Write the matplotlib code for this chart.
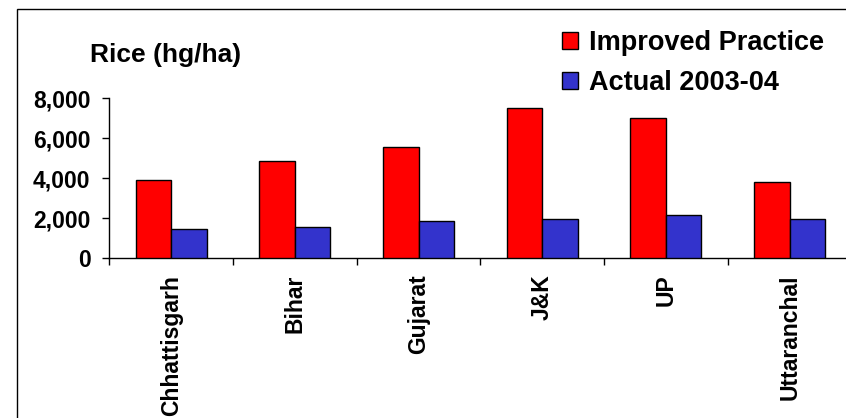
import matplotlib
matplotlib.use("Agg")
import matplotlib.pyplot as plt
from matplotlib.patches import Rectangle, Patch
from matplotlib.ticker import FuncFormatter
import numpy as np

categories = ["Chhattisgarh", "Bihar", "Gujarat", "J&K", "UP", "Uttaranchal"]
improved = [3900, 4880, 5570, 7500, 7020, 3830]
actual = [1450, 1540, 1870, 1940, 2140, 1960]
series_names = ["Improved Practice", "Actual 2003-04"]
title = "Rice (hg/ha)"

plt.rcParams['font.family'] = ['Liberation Sans', 'DejaVu Sans']
plt.rcParams['font.weight'] = 'bold'

W, H = 846, 418
fig = plt.figure(figsize=(W / 100, H / 100), dpi=100)

# axes in pixel coords
left, right = 109.3, 851.5
bottom, top = 258.0, 98.3
ax = fig.add_axes([left / W, 1 - bottom / H, (right - left) / W, (bottom - top) / H])

x = np.arange(len(categories))
bw = 0.287
ax.bar(x - bw / 2, improved, bw, color="#FF0000", edgecolor="black", linewidth=1.0, zorder=3)
ax.bar(x + bw / 2, actual, bw, color="#3333CC", edgecolor="black", linewidth=1.0, zorder=3)

ax.set_xlim(-0.5, len(categories) - 0.5)
ax.set_ylim(0, 8000)
ax.set_yticks([0, 2000, 4000, 6000, 8000])
ax.yaxis.set_major_formatter(FuncFormatter(lambda v, p: f"{int(v):,}"))
for s in ["top", "right"]:
    ax.spines[s].set_visible(False)
ax.spines["left"].set_linewidth(1.0)
ax.spines["bottom"].set_linewidth(1.0)

ax.set_xticks(np.arange(-0.5, len(categories) + 0.5, 1.0))
ax.set_xticklabels([])
ax.set_xticks(x, minor=True)
ax.set_xticklabels(categories, minor=True, rotation=90, fontsize=16.5, fontweight='bold')
ax.tick_params(axis='x', which='major', direction='out', length=5, width=1)
ax.tick_params(axis='x', which='minor', length=0, pad=12)
ax.tick_params(axis='y', direction='out', length=5, width=1, pad=8.5, labelsize=16.5)
for lab in ax.get_yticklabels():
    lab.set_fontweight('bold')

fig.text(90 / W, 1 - 62 / H, title, fontsize=19, fontweight='bold', ha='left', va='baseline')

handles = [Patch(facecolor="#FF0000", edgecolor="black", linewidth=1.0),
           Patch(facecolor="#3333CC", edgecolor="black", linewidth=1.0)]
fig.legend(handles, series_names, loc='upper left', bbox_to_anchor=(562 / W, 1 - 30 / H),
           frameon=False, handlelength=0.58, handleheight=0.58,
           handletextpad=0.42, labelspacing=0.52, borderpad=0, borderaxespad=0,
           prop={'weight': 'bold', 'size': 19.5})

fig.patches.append(Rectangle((16.5 / W, -0.1), 1.2, 1 - 8.5 / H + 0.1, transform=fig.transFigure,
                             fill=False, edgecolor="black", linewidth=1.0))

fig.savefig("out.png", dpi=100)
